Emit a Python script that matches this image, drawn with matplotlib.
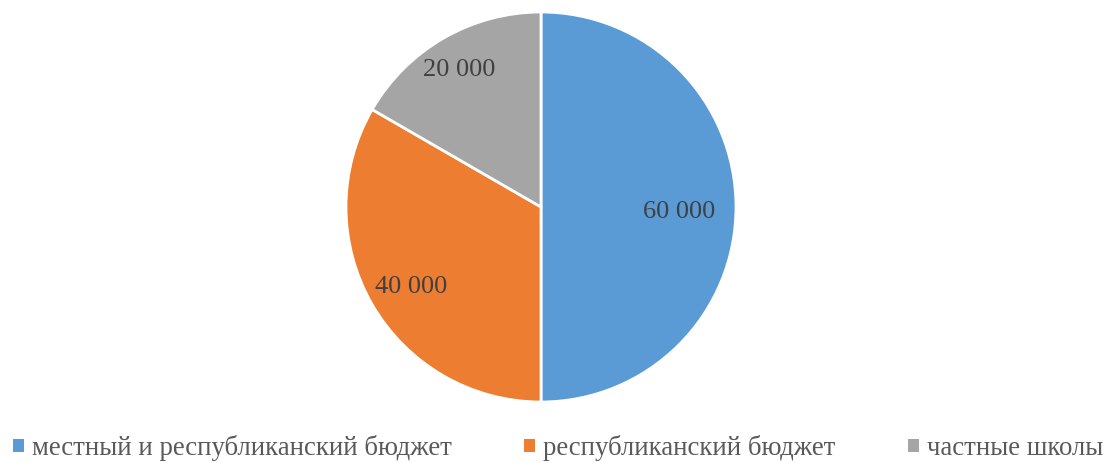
import matplotlib
matplotlib.use("Agg")
import matplotlib.pyplot as plt
from matplotlib.patches import Patch
from matplotlib.transforms import offset_copy
import numpy as np

categories = ["местный и республиканский бюджет", "республиканский бюджет", "частные школы"]
values = [60000, 40000, 20000]
value_labels = ["60 000", "40 000", "20 000"]
colors = ["#5B9BD5", "#ED7D31", "#A5A5A5"]
label_dist = [0.71, 0.77, 0.84]

plt.rcParams['font.family'] = ['Liberation Serif', 'DejaVu Serif']

fig = plt.figure(figsize=(11.05, 4.63), dpi=100)
ax = fig.add_axes([346/1105, 61/463, 390/1105, 390/463])
wedges, _ = ax.pie(values, colors=colors, startangle=90, counterclock=False,
                   wedgeprops=dict(edgecolor="white", linewidth=2))
ax.set_aspect("equal")
ax.set_xlim(-1, 1)
ax.set_ylim(-1, 1)
tr = offset_copy(ax.transData, fig=fig, x=0, y=-5, units="dots")
for w, lab, d in zip(wedges, value_labels, label_dist):
    ang = np.deg2rad((w.theta1 + w.theta2) / 2)
    ax.text(d * np.cos(ang), d * np.sin(ang), lab, ha="center", va="center",
            fontsize=19, color="#404040", transform=tr)

handles = [Patch(facecolor=c, edgecolor="none") for c in colors]
fig.legend(handles, categories, loc="center", bbox_to_anchor=(0.505, 15/463),
           ncol=3, frameon=False, fontsize=19.3, labelcolor="#595959",
           handlelength=0.4, handleheight=0.4, handletextpad=0.3,
           columnspacing=2.7, borderpad=0.2)

fig.savefig("out.png", dpi=100)
